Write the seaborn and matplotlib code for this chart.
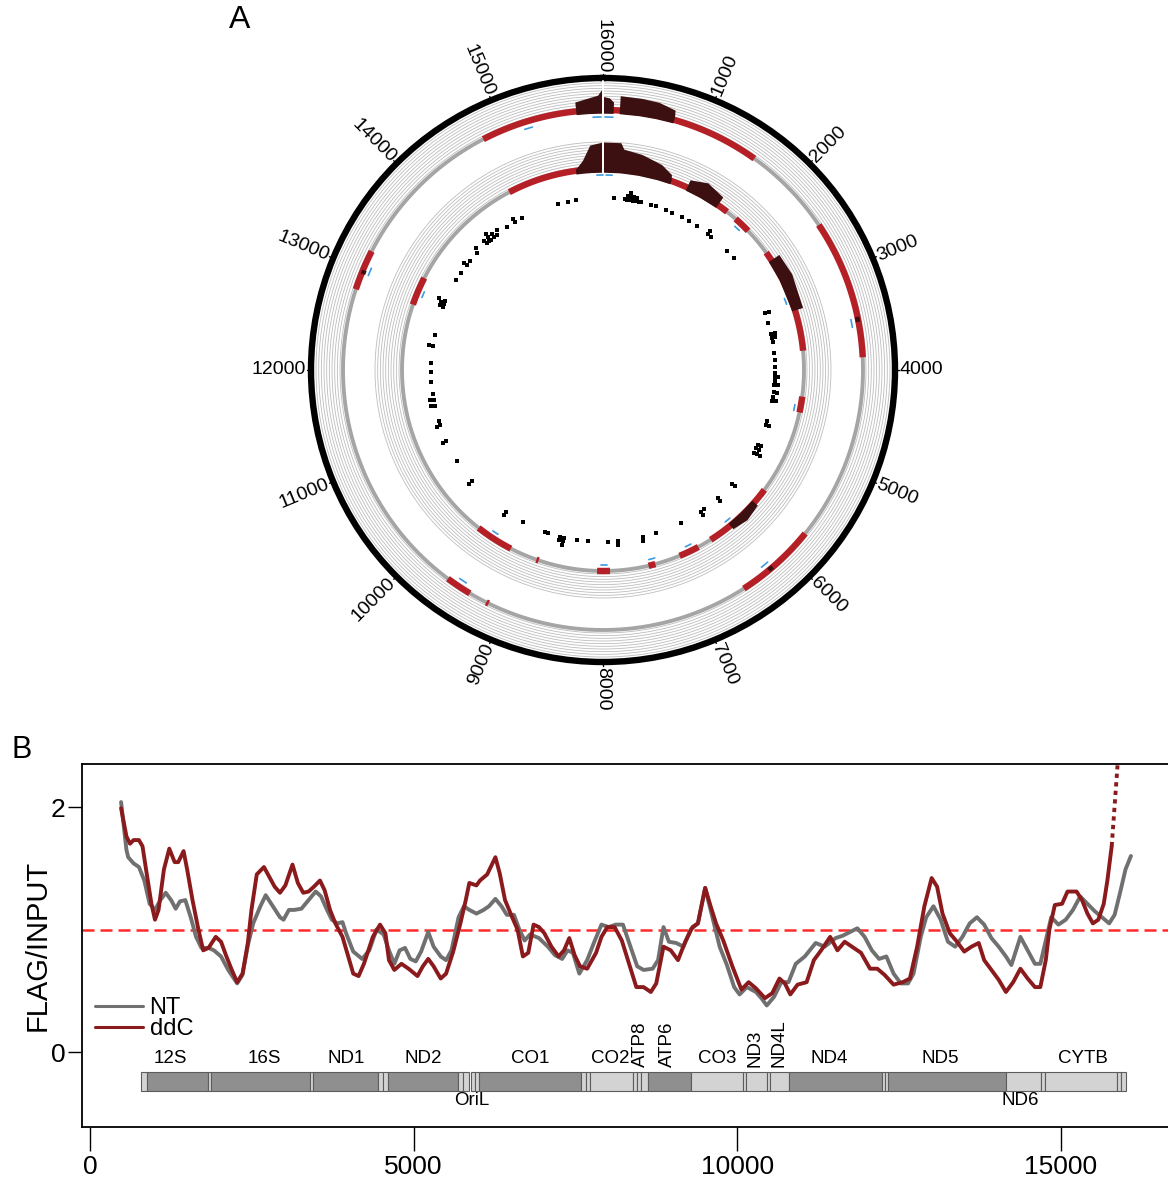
import numpy as np
import pandas as pd
import seaborn as sns
import matplotlib.pyplot as plt

sns.set_style("ticks")
plt.rcParams['font.family'] = ['Liberation Sans', 'DejaVu Sans']
plt.rcParams['text.color'] = 'black'
plt.rcParams['axes.labelcolor'] = 'black'
plt.rcParams['xtick.color'] = 'black'
plt.rcParams['ytick.color'] = 'black'

# ---------------- panel A: circular map ----------------
circle_len = 16000
circle_ticks = list(range(1000, 16001, 1000))

# red (enriched) stretches on the two tracks, start/end in bp
outer_red = [(14782, 16000), (0, 1582), (2493, 3875), (5732, 6542),
             (9160, 9185), (9369, 9627), (12804, 13207)]
inner_red = [(14765, 16000), (0, 1694), (1835, 2053), (2413, 3755),
             (4338, 4542), (5627, 6560), (6742, 7004), (7329, 7418),
             (7911, 8075), (8830, 8860), (9213, 9698), (12844, 13210)]

# dark (high) stretches: positions and height as fraction of track
outer_dark = [([15733, 15850, 15950, 15995], [0.35, 0.45, 0.55, 0.8]),
              ([5, 60, 100], [0.5, 0.45, 0.3]),
              ([160, 363, 525, 689, 702], [0.55, 0.53, 0.5, 0.36, 0.1]),
              ([3470, 3520], [0.05, 0.05]),
              ([6190, 6240], [0.05, 0.05]),
              ([12970, 13010], [0.05, 0.05])]
inner_dark = [([15651, 15750, 15850, 15995], [0.05, 0.35, 0.9, 1.0]),
              ([5, 200, 240, 453, 707, 856, 876], [1.0, 1.0, 0.77, 0.67, 0.47, 0.23, 0.05]),
              ([1093, 1300, 1542], [0.3, 0.5, 0.35]),
              ([2520, 2800, 3227], [0.35, 0.4, 0.3]),
              ([5831, 6050, 6254], [0.15, 0.25, 0.15])]

outer_blue = [15940, 60, 15240, 13014, 3529, 6236, 9493]
inner_blue = [15960, 80, 1930, 3084, 4494, 6236, 6849, 7356, 7987, 9489, 13010]

dot_pos = [15328, 15476, 15593, 159, 320, 360, 360, 400, 400, 400, 450, 450, 490, 490,
           530, 560, 715, 791, 947, 1058, 1213, 1341, 1467, 1667, 1667, 1738, 2053, 2196,
           3142, 3142, 3294, 3462, 3462, 3520, 3520, 3582, 3751, 3850, 3956, 4044, 4100,
           4100, 4160, 4218, 4218, 4329, 4329, 4400, 4458, 4458, 4764, 4831, 4831,
           5142, 5142, 5200, 5200, 5276, 5276, 5276, 5840, 5840, 6142, 6142, 6400, 6462,
           6462, 6800, 7195, 7409, 7409, 7782, 7782, 7933, 8222, 8382, 8582, 8582, 8582,
           8640, 8640, 8836, 8870, 9240, 9529, 9529, 10209, 10209, 10582, 10911, 10911,
           11164, 11164, 11231, 11467, 11467, 11556, 11556, 11646, 11822, 11973, 12102,
           12361, 12361, 12515, 12960, 12960, 13009, 13009, 13050, 13050, 13404, 13533,
           13672, 13672, 13747, 13900, 13950, 14111, 14111, 14150, 14190, 14190, 14190,
           14250, 14250, 14300, 14350, 14500, 14635, 14635, 14750]
dot_level = [0, 0, 0, 0, 0, 0, 1, 0, 1, 2, 0, 1, 0, 1,
             0, 0, 0, 0, 0, 0, 0, 0, 0, 0, 1, 0, 0, 0,
             0, 1, 0, 0, 1, 0, 1, 0, 0, 0, 0, 0, 0,
             1, 0, 0, 1, 0, 1, 0, 0, 1, 0, 0, 1,
             0, 1, 0, 1, 0, 1, 2, 0, 1, 0, 1, 0, 0,
             1, 0, 0, 0, 1, 0, 1, 0, 0, 0, 0, 1, 2,
             0, 1, 0, 0, 0, 0, 1, 0, 1, 0, 0, 1,
             0, 1, 0, 0, 1, 0, 1, 0, 0, 0, 0,
             0, 1, 0, 0, 1, 0, 1, 0, 2, 0, 0,
             0, 1, 0, 0, 1, 0, 1, 0, 0, 1, 2,
             0, 1, 0, 1, 0, 0, 1, 0]

# ---------------- panel B: FLAG/INPUT profile ----------------
nt_pos = [480, 563, 590, 673, 756, 839, 921, 1004, 1087, 1170, 1253, 1324, 1391, 1473,
          1556, 1639, 1722, 1832, 1915, 2025, 2136, 2274, 2357, 2439, 2522, 2633, 2715,
          2826, 2936, 2991, 3074, 3157, 3267, 3378, 3488, 3571, 3654, 3737, 3819, 3902,
          3957, 4068, 4206, 4316, 4427, 4537, 4620, 4703, 4785, 4868, 4951, 5034, 5117,
          5227, 5310, 5420, 5503, 5586, 5696, 5779, 5862, 5972, 6083, 6165, 6265, 6359,
          6441, 6552, 6635, 6717, 6800, 6938, 7076, 7187, 7297, 7380, 7463, 7562, 7683,
          7794, 7904, 8015, 8125, 8236, 8346, 8456, 8555, 8695, 8779, 8863, 8947, 9059,
          9171, 9283, 9395, 9507, 9619, 9731, 9843, 9955, 10039, 10151, 10291, 10375,
          10459, 10571, 10683, 10795, 10907, 11047, 11215, 11355, 11523, 11635, 11747,
          11859, 11971, 12083, 12195, 12307, 12419, 12531, 12643, 12727, 12839, 12923,
          13035, 13147, 13259, 13371, 13483, 13595, 13707, 13819, 13931, 14043, 14155,
          14239, 14379, 14491, 14603, 14687, 14771, 14855, 14967, 15079, 15191, 15303,
          15415, 15527, 15639, 15751, 15835, 15919, 16003, 16087]
nt_ratio = [2.04, 1.65, 1.59, 1.54, 1.51, 1.40, 1.21, 1.16, 1.24, 1.30, 1.24, 1.17, 1.23, 1.24,
            1.10, 0.94, 0.85, 0.85, 0.83, 0.78, 0.67, 0.56, 0.63, 0.87, 1.05, 1.19, 1.28,
            1.19, 1.10, 1.08, 1.16, 1.16, 1.17, 1.24, 1.31, 1.27, 1.17, 1.08, 1.05, 1.06,
            0.97, 0.82, 0.76, 0.83, 1.00, 0.96, 0.83, 0.72, 0.83, 0.85, 0.76, 0.74, 0.82,
            0.98, 0.86, 0.78, 0.75, 0.83, 1.10, 1.19, 1.16, 1.13, 1.16, 1.19, 1.25, 1.19,
            1.12, 1.12, 1.00, 0.91, 0.96, 0.93, 0.86, 0.79, 0.76, 0.83, 0.81, 0.64, 0.75,
            0.90, 1.04, 1.02, 1.04, 1.04, 0.87, 0.70, 0.67, 0.68, 0.75, 1.02, 0.90, 0.89,
            0.86, 1.00, 1.05, 1.34, 1.10, 0.86, 0.71, 0.53, 0.47, 0.53, 0.49, 0.44,
            0.38, 0.45, 0.57, 0.57, 0.72, 0.78, 0.89, 0.86, 0.93, 0.95, 0.98,
            1.01, 0.94, 0.83, 0.76, 0.78, 0.64, 0.56, 0.56, 0.64, 0.94, 1.10,
            1.19, 1.08, 0.90, 0.86, 0.94, 1.05, 1.10, 1.04, 0.93, 0.86, 0.78,
            0.71, 0.94, 0.83, 0.72, 0.72, 0.91, 1.10, 1.04, 1.08, 1.16, 1.27,
            1.21, 1.15, 1.10, 1.05, 1.12, 1.30, 1.49, 1.60]

ddc_pos = [480, 563, 618, 673, 756, 811, 866, 949, 1004, 1059, 1142, 1225, 1308, 1363,
           1446, 1501, 1584, 1667, 1749, 1832, 1943, 2025, 2108, 2191, 2274, 2357, 2439,
           2495, 2577, 2688, 2771, 2853, 2936, 3019, 3129, 3212, 3295, 3378, 3461, 3554,
           3626, 3709, 3792, 3902, 3985, 4068, 4151, 4233, 4371, 4482, 4565, 4620, 4703,
           4813, 4923, 5061, 5144, 5227, 5310, 5420, 5503, 5613, 5724, 5807, 5862, 5972,
           6027, 6138, 6265, 6331, 6414, 6524, 6607, 6690, 6773, 6855, 6938, 7021, 7131,
           7242, 7325, 7407, 7490, 7573, 7683, 7821, 7904, 7995, 8107, 8219, 8331, 8443,
           8555, 8667, 8751, 8863, 8975, 9087, 9199, 9311, 9395, 9507, 9591, 9675, 9787,
           9927, 10067, 10179, 10291, 10431, 10543, 10655, 10739, 10823, 10935, 11075,
           11187, 11299, 11439, 11551, 11663, 11803, 11915, 12055, 12167, 12279, 12419,
           12559, 12671, 12783, 12895, 13007, 13091, 13175, 13287, 13399, 13511, 13623,
           13735, 13819, 13931, 14043, 14155, 14267, 14379, 14491, 14603, 14687, 14771,
           14827, 14911, 15023, 15107, 15247, 15331, 15415, 15499, 15583, 15667, 15723,
           15790]
ddc_ratio = [1.99, 1.76, 1.70, 1.73, 1.73, 1.68, 1.49, 1.21, 1.08, 1.16, 1.49, 1.66, 1.55, 1.55,
             1.64, 1.49, 1.24, 1.02, 0.83, 0.85, 0.94, 0.90, 0.78, 0.67, 0.57, 0.64, 0.89,
             1.16, 1.45, 1.51, 1.43, 1.35, 1.30, 1.36, 1.53, 1.38, 1.30, 1.31, 1.35, 1.40,
             1.32, 1.16, 1.05, 0.94, 0.79, 0.64, 0.62, 0.72, 0.94, 1.04, 0.97, 0.75, 0.67,
             0.72, 0.68, 0.62, 0.70, 0.76, 0.70, 0.60, 0.64, 0.82, 1.05, 1.24, 1.38, 1.36,
             1.40, 1.45, 1.59, 1.46, 1.24, 1.10, 1.00, 0.78, 0.81, 1.04, 1.02, 0.97, 0.86,
             0.78, 0.83, 0.93, 0.79, 0.70, 0.68, 0.81, 0.94, 1.02, 1.02, 0.91, 0.72, 0.53,
             0.53, 0.49, 0.56, 0.86, 0.83, 0.75, 0.90, 1.02, 1.05, 1.34, 1.19, 1.05, 0.91,
             0.70, 0.51, 0.57, 0.52, 0.44, 0.48, 0.60, 0.56, 0.47, 0.55, 0.57,
             0.75, 0.83, 0.94, 0.83, 0.90, 0.85, 0.81, 0.68, 0.68, 0.63, 0.55,
             0.57, 0.60, 0.86, 1.19, 1.42, 1.35, 1.13, 0.97, 0.90, 0.82, 0.86,
             0.89, 0.75, 0.67, 0.59, 0.49, 0.57, 0.68, 0.60, 0.53, 0.53, 0.75,
             1.00, 1.20, 1.21, 1.31, 1.31, 1.24, 1.13, 1.05, 1.08, 1.21, 1.40,
             1.68]
ddc_tail_pos = [15790, 15880]
ddc_tail_ratio = [1.68, 2.34]

# gene map: start, end, shade (d = dark, l = light)
gene_start = [788, 880, 1830, 1870, 3400, 3450, 4457, 4530, 4600, 5691, 5760, 5884, 5950,
              6012, 7589, 7660, 7728, 8393, 8450, 8520, 8624, 9289, 10093, 10139, 10464,
              10510, 10804, 12233, 12280, 12334, 14158, 14699, 14760, 15873, 15940]
gene_end = [880, 1830, 1870, 3400, 3450, 4457, 4530, 4600, 5691, 5760, 5852, 5950, 6012,
            7589, 7660, 7728, 8393, 8450, 8520, 8624, 9289, 10093, 10139, 10464, 10510,
            10804, 12233, 12280, 12334, 14158, 14699, 14760, 15873, 15940, 16012]
gene_shade = ['l', 'd', 'l', 'd', 'l', 'd', 'l', 'l', 'd', 'l', 'l', 'l', 'l',
              'd', 'l', 'l', 'l', 'l', 'l', 'l', 'd', 'l', 'l', 'l', 'l',
              'l', 'd', 'l', 'l', 'd', 'l', 'l', 'l', 'l', 'l']
gene_names = ['12S', '16S', 'ND1', 'ND2', 'CO1', 'CO2', 'ATP8', 'ATP6', 'CO3', 'ND3',
              'ND4L', 'ND4', 'ND5', 'CYTB']
gene_label_x = [1240, 2690, 3953, 5155, 6795, 8040, 8501, 8918, 9690, 10278, 10649,
                11430, 13138, 15344]
gene_label_rot = [0, 0, 0, 0, 0, 0, 90, 90, 0, 90, 90, 0, 0, 0]
below_names = ['OriL', 'ND6']
below_x = [5905, 14374]

W, H = 1168, 1177
fig = plt.figure(figsize=(W / 100, H / 100), dpi=100)

# ---- A ----
cx, cy, rmax = 603, 370, 292
ax_a = fig.add_axes([(cx - rmax) / W, 1 - (cy + rmax) / H, 2 * rmax / W, 2 * rmax / H],
                    projection='polar')
ax_a.set_theta_zero_location('N')
ax_a.set_theta_direction(-1)
ax_a.set_ylim(0, rmax)
ax_a.set_xticks([])
ax_a.set_yticks([])
ax_a.grid(False)
ax_a.spines['polar'].set_linewidth(4.6)
ax_a.spines['polar'].set_color('black')


def to_theta(p):
    return np.asarray(p, dtype=float) / circle_len * 2 * np.pi


red_c = '#b51f26'
dark_c = '#3c1010'
base_c = '#a5a5a5'
thin_c = '#bdbdbd'
blue_c = '#3f9be0'
full = np.linspace(0, 2 * np.pi, 721)

tracks = [(260, outer_red, outer_dark, outer_blue, 253),
          (201, inner_red, inner_dark, inner_blue, 195)]
track_h = 27
for base, reds, darks, blues, rb in tracks:
    for r in np.linspace(base + 3, base + track_h, 10):
        ax_a.plot(full, np.full_like(full, r), color=thin_c, lw=0.6, zorder=1)
    ax_a.plot(full, np.full_like(full, base), color=base_c, lw=2.8, zorder=2)
    for s, e in reds:
        t = to_theta(np.linspace(s, e, 80))
        ax_a.plot(t, np.full_like(t, base), color=red_c, lw=4.6,
                  solid_capstyle='butt', zorder=3)
    for pos, h in darks:
        t = to_theta(pos)
        ax_a.fill_between(t, base - 3.2, base + np.array(h) * track_h, color=dark_c,
                          lw=0, zorder=4)
    for p in blues:
        t = to_theta(np.linspace(p - 40, p + 40, 8))
        ax_a.plot(t, np.full_like(t, rb), color=blue_c, lw=1.2, zorder=4)

ax_a.plot([0, 0], [197, 289], color='white', lw=1.4, zorder=5)

dots = pd.DataFrame({'theta': to_theta(dot_pos),
                     'r': 172 + 3.6 * np.array(dot_level)})
sns.scatterplot(x=dots['theta'].values, y=dots['r'].values, ax=ax_a, marker='s', s=7,
                color='black', linewidth=0, zorder=5)

for p in circle_ticks:
    deg = p / circle_len * 360
    th = np.deg2rad(deg)
    if deg <= 180:
        rot, ha = 90 - deg, 'left'
    else:
        rot, ha = 270 - deg, 'right'
    ax_a.plot([th, th], [rmax, rmax + 4], color='black', lw=1, clip_on=False)
    ax_a.text(th, rmax + 5, str(p), rotation=rot, rotation_mode='anchor', ha=ha,
              va='center', fontsize=14)
ax_a.set_ylim(0, rmax)

# ---- B ----
ax_b = fig.add_axes([82 / W, 1 - 1127 / H, 1108 / W, 363 / H])
df = pd.concat([pd.DataFrame({'pos': nt_pos, 'ratio': nt_ratio, 'sample': 'NT'}),
                pd.DataFrame({'pos': ddc_pos, 'ratio': ddc_ratio, 'sample': 'ddC'})])
pal = {'NT': '#707070', 'ddC': '#8b1a1d'}
sns.lineplot(data=df, x='pos', y='ratio', hue='sample', hue_order=['NT', 'ddC'],
             palette=pal, estimator=None, sort=False, lw=2.8, ax=ax_b)
ax_b.plot(ddc_tail_pos, ddc_tail_ratio, color=pal['ddC'], lw=2.8, ls=(0, (1.1, 1.1)))
ax_b.axhline(1, color='#ff2a2a', lw=1.8, ls=(0, (4.8, 2.4)), zorder=1)

shade_col = {'d': '#8f8f8f', 'l': '#d3d3d3'}
ax_b.bar(gene_start, -0.155, width=np.array(gene_end) - np.array(gene_start),
         bottom=-0.163, align='edge', color=[shade_col[s] for s in gene_shade],
         edgecolor='#5c5c5c', linewidth=0.8)
for name, x, rot in zip(gene_names, gene_label_x, gene_label_rot):
    ax_b.text(x, -0.125, name, rotation=rot, ha='center', va='bottom', fontsize=13.5)
for name, x in zip(below_names, below_x):
    ax_b.text(x, -0.33, name, ha='center', va='top', fontsize=13.5)

ax_b.set_xlim(-124, 17000)
ax_b.set_ylim(-0.612, 2.351)
ax_b.set_xticks([0, 5000, 10000, 15000])
ax_b.set_yticks([0, 2])
ax_b.tick_params(axis='x', length=17, width=1, labelsize=19, pad=3)
ax_b.tick_params(axis='y', length=10, width=1, labelsize=19, pad=2)
for sp in ax_b.spines.values():
    sp.set_linewidth(1.3)
    sp.set_color('black')
ax_b.set_xlabel('')
ax_b.set_ylabel('FLAG/INPUT', fontsize=21, labelpad=-1)

leg = ax_b.legend(loc='lower left', bbox_to_anchor=(0.012, 0.24), frameon=False,
                  fontsize=17, handlelength=2.0, handletextpad=0.3, labelspacing=-0.05,
                  borderpad=0, borderaxespad=0, title=None)
for line in leg.get_lines():
    line.set_linewidth(2.2)

fig.text(240 / W, 1 - 20 / H, 'A', ha='center', va='center', fontsize=23)
fig.text(22 / W, 1 - 750 / H, 'B', ha='center', va='center', fontsize=22)

fig.savefig('out.png', dpi=100)
